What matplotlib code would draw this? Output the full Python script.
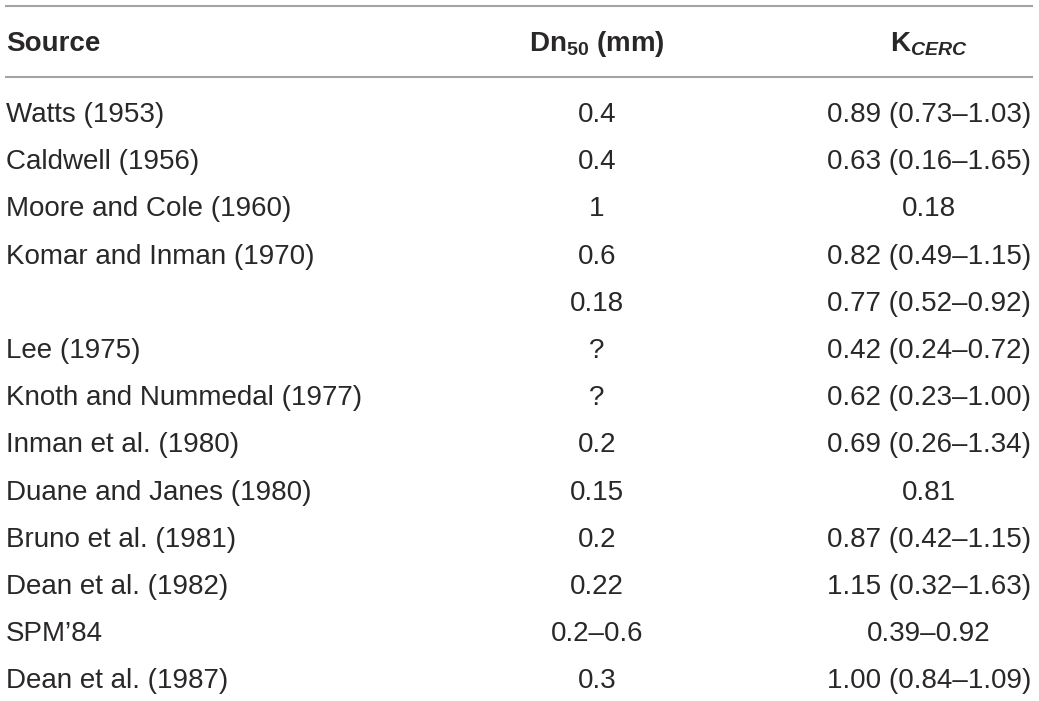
import matplotlib
matplotlib.use("Agg")
import matplotlib.pyplot as plt

plt.rcParams['font.family'] = ['Liberation Sans', 'DejaVu Sans']
plt.rcParams['mathtext.fontset'] = 'custom'
plt.rcParams['mathtext.rm'] = 'Liberation Sans'
plt.rcParams['mathtext.it'] = 'Liberation Sans:italic'
plt.rcParams['mathtext.bf'] = 'Liberation Sans:bold'
plt.rcParams['mathtext.bfit'] = 'Liberation Sans:italic:bold'

# table content
headers = ["Source", r"Dn$_{\mathbf{50}}$ (mm)", r"K$_{\mathbfit{CERC}}$"]
sources = ["Watts (1953)", "Caldwell (1956)", "Moore and Cole (1960)",
           "Komar and Inman (1970)", "", "Lee (1975)",
           "Knoth and Nummedal (1977)", "Inman et al. (1980)",
           "Duane and Janes (1980)", "Bruno et al. (1981)",
           "Dean et al. (1982)", "SPM\u201984", "Dean et al. (1987)"]
dn50 = ["0.4", "0.4", "1", "0.6", "0.18", "?", "?", "0.2", "0.15",
        "0.2", "0.22", "0.2\u20130.6", "0.3"]
kcerc = ["0.89 (0.73\u20131.03)", "0.63 (0.16\u20131.65)", "0.18",
         "0.82 (0.49\u20131.15)", "0.77 (0.52\u20130.92)",
         "0.42 (0.24\u20130.72)", "0.62 (0.23\u20131.00)",
         "0.69 (0.26\u20131.34)", "0.81", "0.87 (0.42\u20131.15)",
         "1.15 (0.32\u20131.63)", "0.39\u20130.92", "1.00 (0.84\u20131.09)"]

W, H = 1039, 701
fig = plt.figure(figsize=(W / 100, H / 100), dpi=100)
ax = fig.add_axes([0, 0, 1, 1])
ax.set_xlim(0, W)
ax.set_ylim(H, 0)
ax.axis('off')

text_color = '#2a2728'
line_color = '#a3a3a3'
fs = 20
col_x = [6, 597, 929]
col_ha = ['left', 'center', 'center']

# rules
for y in (5.5, 77):
    ax.plot([5, 1033], [y, y], color=line_color, lw=1.5, solid_capstyle='butt')

# header
for x, ha, label in zip(col_x, col_ha, headers):
    ax.text(x, 51, label, ha=ha, va='baseline', fontsize=fs,
            fontweight='bold', color=text_color)

# body rows
row0, step = 122, 47.2
for i, (s, d, k) in enumerate(zip(sources, dn50, kcerc)):
    y = row0 + i * step
    for x, ha, label in zip(col_x, col_ha, (s, d, k)):
        ax.text(x, y, label, ha=ha, va='baseline', fontsize=fs,
                color=text_color)

fig.savefig("out.png", dpi=100)
